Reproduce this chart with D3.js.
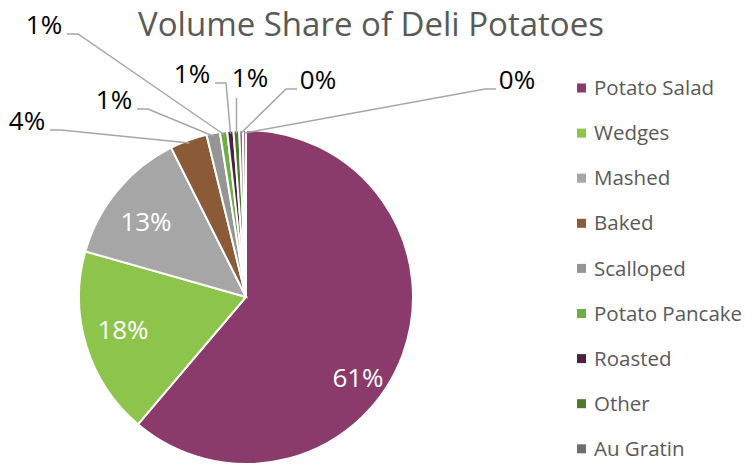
<!DOCTYPE html>
<html>
<head>
<meta charset="utf-8">
<script src="https://cdn.jsdelivr.net/npm/d3@7"></script>
<style>
  body { margin: 0; background: #fff; }
  text { font-family: "Open Sans", sans-serif; }
</style>
</head>
<body>
<div id="chart"></div>
<script>
// slice data, in the order Excel draws them (clockwise from 12 o'clock)
const categories = ["Potato Salad", "Wedges", "Mashed", "Baked", "Scalloped",
                    "Potato Pancake", "Roasted", "Other", "Au Gratin", "Hash Browns"];
const shares = [61.2, 18.2, 13.2, 3.6, 1.3, 0.7, 0.6, 0.55, 0.35, 0.3];
const colors = ["#8A3B6B", "#8DC44B", "#A6A6A6", "#8B5A36", "#959595",
                "#70AD47", "#4E2140", "#4A7A2A", "#6E6E6E", "#B36A96"];

// label placement (offset of label centre from pie centre), as laid out in the sheet
const labelPos = [[112, 81], [-123, 33], [-100, -75], [-219, -176], [-132, -197],
                  [-202, -272], [-54, -223], [4, -219], [72, -217], [271, -217]];
const inside = [true, true, true, false, false, false, false, false, false, false];

const W = 745, H = 467;
const cx = 246, cy = 297, r = 167;

const svg = d3.select("#chart").append("svg")
    .attr("width", W)
    .attr("height", H);

// title
svg.append("text")
    .attr("x", 371)
    .attr("y", 36)
    .attr("text-anchor", "middle")
    .style("font-size", "33px")
    .style("fill", "#595959")
    .text("Volume Share of Deli Potatoes");

const total = d3.sum(shares);
const pie = d3.pie().sort(null).value(d => d)(shares);
const arc = d3.arc().innerRadius(0).outerRadius(r);
const edge = d3.arc().innerRadius(r - 3).outerRadius(r - 3);

const g = svg.append("g").attr("transform", `translate(${cx},${cy})`);

g.selectAll("path.slice")
  .data(pie)
  .enter().append("path")
    .attr("class", "slice")
    .attr("d", arc)
    .attr("fill", (d, i) => colors[i])
    .attr("stroke", "#fff")
    .attr("stroke-width", 2);

// leader lines for the labels pulled out of the pie
const fs = 26;
g.selectAll("path.leader")
  .data(pie.filter((d, i) => !inside[i]))
  .enter().append("path")
    .attr("class", "leader")
    .attr("fill", "none")
    .attr("stroke", "#A6A6A6")
    .attr("stroke-width", 1.5)
    .attr("d", d => {
      const i = d.index;
      const p = edge.centroid(d);
      const [lx, ly] = labelPos[i];
      const half = 18, by = ly + 9;
      let pts;
      if (lx + half < p[0] - 8) {
        pts = [[lx + half + 5, by], [lx + half + 16, by], p];
      } else if (lx - half > p[0] + 8) {
        pts = [[lx - half - 3, by], [lx - half - 14, by], p];
      } else {
        pts = [[p[0], ly + 20], p];
      }
      return d3.line()(pts);
    });

g.selectAll("text.lbl")
  .data(pie)
  .enter().append("text")
    .attr("class", "lbl")
    .attr("x", d => labelPos[d.index][0])
    .attr("y", d => labelPos[d.index][1])
    .attr("dy", "0.35em")
    .attr("text-anchor", "middle")
    .style("font-size", fs + "px")
    .style("fill", d => inside[d.index] ? "#fff" : "#000")
    .text(d => Math.round(d.data / total * 100) + "%");

// legend: only the entries that fit in the chart area are shown, as in the original
const legendItems = categories.slice(0, 9);
const leg = svg.append("g").attr("transform", "translate(577,88)");
const row = leg.selectAll("g")
  .data(legendItems)
  .enter().append("g")
    .attr("transform", (d, i) => `translate(0,${i * 45.1})`);
row.append("rect")
    .attr("x", 0)
    .attr("y", -4.5)
    .attr("width", 9)
    .attr("height", 9)
    .attr("fill", (d, i) => colors[i]);
row.append("text")
    .attr("x", 17)
    .attr("dy", "0.35em")
    .style("font-size", "20.5px")
    .style("fill", "#595959")
    .text(d => d);
</script>
</body>
</html>
